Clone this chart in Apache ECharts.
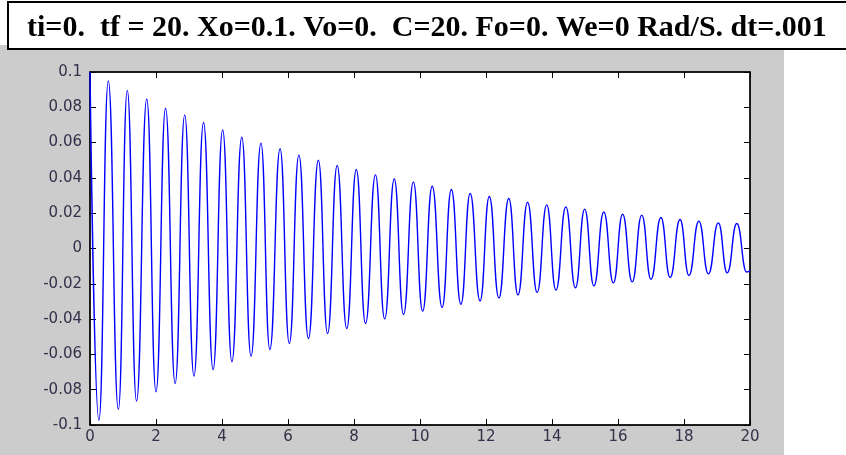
<!DOCTYPE html>
<html>
<head>
<meta charset="utf-8">
<script src="https://cdn.jsdelivr.net/npm/echarts@6/dist/echarts.min.js"></script>
<style>
html,body{margin:0;padding:0;background:#fff;}
#c{width:846px;height:455px;}
</style>
</head>
<body>
<div id="c"></div>
<script>
// Title text
var titleText = 'ti=0.  tf = 20. Xo=0.1. Vo=0.  C=20. Fo=0. We=0 Rad/S. dt=.001';

// Start and end samples
var startPoint = [0, 0.1];
var endPoint = [20, -0.0125];

// Peaks (time, displacement)
var peakTimes = [0.555, 1.13, 1.72, 2.29, 2.87, 3.44, 4.02, 4.60, 5.18, 5.76,
  6.33, 6.92, 7.49, 8.07, 8.65, 9.22, 9.80, 10.37, 10.95, 11.52,
  12.10, 12.69, 13.26, 13.84, 14.42, 14.99, 15.57, 16.14, 16.72, 17.30,
  17.88, 18.45, 19.04, 19.60];
var peakValues = [0.095, 0.0896, 0.0847, 0.0795, 0.0757, 0.0714, 0.0672, 0.063, 0.0597, 0.0565,
  0.0529, 0.050, 0.047, 0.0448, 0.0417, 0.0394, 0.0376, 0.0353, 0.0334, 0.0312,
  0.0295, 0.0283, 0.0262, 0.0247, 0.0236, 0.0223, 0.0207, 0.0194, 0.0189, 0.0176,
  0.0164, 0.0155, 0.0145, 0.0142];

// Troughs (time, displacement)
var troughTimes = [0.27, 0.86, 1.41, 2.00, 2.58, 3.15, 3.73, 4.30, 4.88, 5.45,
  6.04, 6.62, 7.20, 7.78, 8.35, 8.93, 9.50, 10.08, 10.67, 11.24,
  11.82, 12.39, 12.97, 13.55, 14.12, 14.71, 15.27, 15.86, 16.43, 17.00,
  17.58, 18.15, 18.74, 19.31, 19.90];
var troughValues = [-0.0973, -0.0912, -0.0865, -0.0812, -0.0765, -0.0723, -0.0686, -0.0642, -0.061, -0.0572,
  -0.0538, -0.051, -0.0482, -0.0453, -0.0425, -0.0399, -0.0374, -0.0355, -0.0334, -0.0316,
  -0.0297, -0.028, -0.0263, -0.0249, -0.0236, -0.0223, -0.0212, -0.0195, -0.0189, -0.0174,
  -0.0164, -0.0153, -0.0144, -0.0138, -0.0133];

// Axis ticks
var xTicks = [0, 2, 4, 6, 8, 10, 12, 14, 16, 18, 20];
var yTicks = [-0.1, -0.08, -0.06, -0.04, -0.02, 0, 0.02, 0.04, 0.06, 0.08, 0.1];

var pts = [startPoint];
peakTimes.forEach(function (t, i) { pts.push([t, peakValues[i]]); });
troughTimes.forEach(function (t, i) { pts.push([t, troughValues[i]]); });
pts.push(endPoint);
pts.sort(function (a, b) { return a[0] - b[0]; });

var labelStyle = { color: '#33304a', fontSize: 15, fontFamily: '"DejaVu Sans", Verdana, sans-serif' };
var axLine = { show: true, onZero: false, lineStyle: { color: '#000', width: 1.5 } };
var tick = { show: true, inside: true, length: 6, lineStyle: { color: '#000', width: 1 } };

var chart = echarts.init(document.getElementById('c'), null, { renderer: 'canvas' });
chart.setOption({
  animation: false,
  backgroundColor: '#fff',
  graphic: [
    { type: 'rect', z: -10, shape: { x: 0, y: 45, width: 784, height: 410 }, style: { fill: '#cccccc' } },
    { type: 'rect', z: 100, shape: { x: 8, y: 2, width: 850, height: 47 }, style: { fill: '#fff', stroke: '#000', lineWidth: 2 } },
    { type: 'text', z: 101, x: 27, y: 28, style: { text: titleText, fill: '#000', font: 'bold 30px "Liberation Serif", "Times New Roman", serif', textVerticalAlign: 'middle' } }
  ],
  grid: { left: 90, right: 96, top: 72, bottom: 30, show: true, backgroundColor: '#fff', borderColor: '#000', borderWidth: 1 },
  xAxis: [
    { type: 'value', min: xTicks[0], max: xTicks[xTicks.length - 1], interval: 2, position: 'bottom',
      axisLine: axLine, axisTick: tick, splitLine: { show: false },
      axisLabel: Object.assign({ margin: 5 }, labelStyle) },
    { type: 'value', min: xTicks[0], max: xTicks[xTicks.length - 1], interval: 2, position: 'top',
      axisLine: axLine, axisTick: tick, splitLine: { show: false }, axisLabel: { show: false } }
  ],
  yAxis: [
    { type: 'value', min: yTicks[0], max: yTicks[yTicks.length - 1], interval: 0.02, position: 'left',
      axisLine: axLine, axisTick: tick, splitLine: { show: false },
      axisLabel: Object.assign({ margin: 8, formatter: function (v) { return String(Math.round(v * 100) / 100); } }, labelStyle) },
    { type: 'value', min: yTicks[0], max: yTicks[yTicks.length - 1], interval: 0.02, position: 'right',
      axisLine: axLine, axisTick: tick, splitLine: { show: false }, axisLabel: { show: false } }
  ],
  series: [{
    type: 'line',
    data: pts,
    xAxisIndex: 0, yAxisIndex: 0,
    showSymbol: false,
    smooth: 0.5,
    smoothMonotone: 'x',
    lineStyle: { color: '#0000ff', width: 1.4 },
    clip: true
  }]
});
</script>
</body>
</html>
